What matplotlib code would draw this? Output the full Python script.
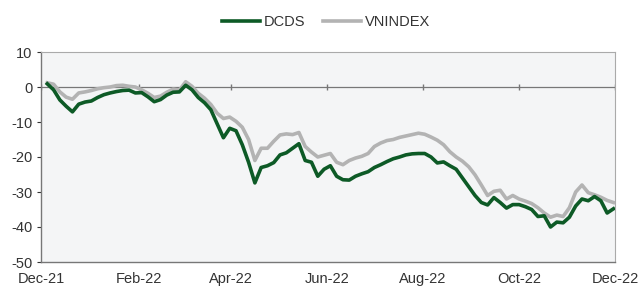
import numpy as np
import pandas as pd
import matplotlib
matplotlib.use("Agg")
import matplotlib.pyplot as plt
import matplotlib.dates as mdates

plt.rcParams["font.family"] = ["Liberation Sans", "DejaVu Sans"]
plt.rcParams["axes.unicode_minus"] = False

dates = pd.date_range("2021-12-05", periods=91, freq="4D")

dcds = [0.9, -0.8, -3.7, -5.5, -7.1, -4.9, -4.3, -4.0, -3.0, -2.2,
        -1.7, -1.3, -1.0, -0.9, -1.7, -1.6, -2.8, -4.2, -3.6, -2.3,
        -1.5, -1.4, 0.5, -0.8, -3.0, -4.5, -6.5, -10.5, -14.5, -11.8,
        -12.5, -16.5, -21.5, -27.4, -23.0, -22.5, -21.6, -19.4, -18.8, -17.5,
        -16.2, -21.0, -21.5, -25.5, -23.5, -22.5, -25.5, -26.5, -26.6, -25.5,
        -24.8, -24.2, -23.0, -22.2, -21.3, -20.5, -20.0, -19.4, -19.1, -19.0,
        -19.0, -20.0, -21.7, -21.4, -22.5, -23.5, -26.0, -28.5, -31.0, -33.0,
        -33.7, -31.6, -33.0, -34.6, -33.6, -33.6, -34.2, -35.0, -37.0, -36.8,
        -40.0, -38.6, -38.8, -37.2, -34.0, -32.0, -32.5, -31.3, -32.5, -36.0,
        -34.8]

vnindex = [1.2, 0.8, -1.4, -2.9, -3.5, -1.7, -1.4, -1.0, -0.5, -0.2,
           0.0, 0.4, 0.5, 0.2, 0.0, -0.8, -1.8, -3.0, -2.6, -1.5,
           -0.6, -0.9, 1.5, 0.2, -1.8, -3.2, -5.0, -7.5, -9.0, -8.6,
           -9.8, -11.5, -15.0, -21.0, -17.5, -17.5, -15.5, -13.7, -13.4, -13.6,
           -13.0, -17.0, -18.6, -20.0, -19.5, -19.0, -21.5, -22.2, -21.0, -20.3,
           -19.8, -19.0, -17.0, -16.0, -15.3, -15.0, -14.4, -14.0, -13.6, -13.2,
           -13.5, -14.3, -15.2, -16.5, -18.5, -20.0, -21.2, -22.8, -25.1, -28.0,
           -31.0, -29.8, -29.5, -32.0, -31.0, -32.0, -32.6, -33.3, -34.5, -36.0,
           -37.2, -36.6, -37.0, -34.5, -30.0, -28.0, -30.2, -30.8, -31.5, -32.4,
           -33.0]

tick_dates = pd.to_datetime(["2021-12-01", "2022-02-01", "2022-04-01", "2022-06-01",
                             "2022-08-01", "2022-10-01", "2022-12-01"])

green = "#0d5a26"
grey = "#b3b3b3"
txt = "#333333"

fig = plt.figure(figsize=(6.39, 2.87), dpi=100)
ax = fig.add_axes([41/639, 25/287, 574/639, 210/287])
ax.set_facecolor("#f4f5f6")

ax.plot(dates, vnindex, color=grey, linewidth=2.6, label="VNINDEX", zorder=3)
ax.plot(dates, dcds, color=green, linewidth=2.6, label="DCDS", zorder=4)

# zero line with its tick marks
ax.axhline(0, color="#777777", linewidth=0.9, zorder=2)
ax.plot(tick_dates, np.zeros(len(tick_dates)), linestyle="none", marker="|",
        markersize=5, color="#777777", zorder=2)

ax.set_xlim(tick_dates[0], tick_dates[-1])
ax.set_ylim(-50, 10)
ax.set_yticks(np.arange(-50, 11, 10))
ax.set_xticks(tick_dates)
ax.xaxis.set_major_formatter(mdates.DateFormatter("%b-%y"))

for s in ["top", "right"]:
    ax.spines[s].set_color("#aaaaaa")
    ax.spines[s].set_linewidth(0.8)
for s in ["left", "bottom"]:
    ax.spines[s].set_color("#777777")
    ax.spines[s].set_linewidth(1.0)

ax.tick_params(axis="both", labelsize=10.5, colors=txt, length=3, width=0.8)
ax.tick_params(axis="x", length=0, pad=7)
ax.tick_params(axis="y", pad=3)

h, l = ax.get_legend_handles_labels()
fig.legend(h[::-1], l[::-1], loc="center", bbox_to_anchor=(326/639, 1 - 22/287),
           ncol=2, frameon=False, fontsize=10.5, handlelength=2.6,
           columnspacing=1.2, handletextpad=0.3, labelcolor=txt)

fig.savefig("out.png", dpi=100, facecolor="white")
